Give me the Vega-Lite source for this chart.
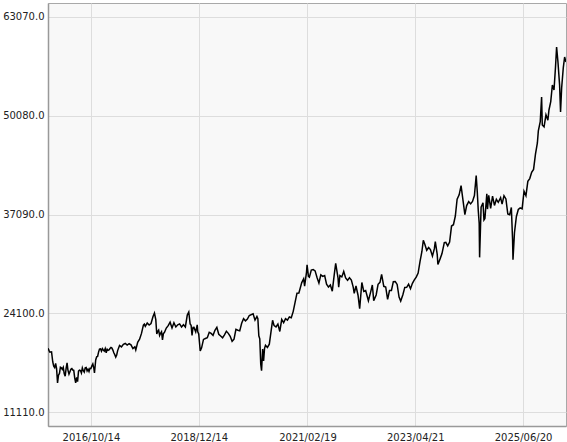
{
  "$schema": "https://vega.github.io/schema/vega-lite/v6.json",
  "width": 518,
  "height": 423,
  "autosize": {"type": "none"},
  "padding": {"left": 48, "top": 3, "right": 1, "bottom": 16},
  "background": "white",
  "config": {
    "view": {"fill": "#f8f8f8", "stroke": "#a8a8a8", "strokeWidth": 1},
    "font": "DejaVu Sans",
    "axis": {"labelFont": "DejaVu Sans", "labelFontSize": 10, "labelColor": "#222222", "gridColor": "#dddddd", "gridWidth": 1, "ticks": false, "domainColor": "#999999", "domainWidth": 1.5, "title": null}
  },
  "data": {"values": [
    {"date":"2015-12-04","close":19504},{"date":"2015-12-11","close":19230},{"date":"2015-12-18","close":18986},{"date":"2015-12-30","close":19034},
    {"date":"2016-01-08","close":17698},{"date":"2016-01-15","close":17147},{"date":"2016-01-22","close":16958},{"date":"2016-01-29","close":17518},{"date":"2016-02-05","close":16820},{"date":"2016-02-12","close":14952},{"date":"2016-02-19","close":15967},{"date":"2016-02-26","close":16188},{"date":"2016-03-04","close":17014},{"date":"2016-03-11","close":16938},{"date":"2016-03-18","close":16724},{"date":"2016-03-25","close":17002},{"date":"2016-04-01","close":16164},{"date":"2016-04-08","close":15821},{"date":"2016-04-15","close":16848},{"date":"2016-04-22","close":17572},{"date":"2016-04-28","close":16666},{"date":"2016-05-06","close":16106},{"date":"2016-05-13","close":16412},{"date":"2016-05-20","close":16736},{"date":"2016-05-27","close":16834},{"date":"2016-06-03","close":16642},{"date":"2016-06-10","close":16601},{"date":"2016-06-17","close":15599},{"date":"2016-06-24","close":14952},{"date":"2016-07-01","close":15682},{"date":"2016-07-08","close":15106},{"date":"2016-07-15","close":16497},{"date":"2016-07-22","close":16627},{"date":"2016-07-29","close":16569},{"date":"2016-08-05","close":16254},{"date":"2016-08-12","close":16919},{"date":"2016-08-19","close":16545},{"date":"2016-08-26","close":16360},{"date":"2016-09-02","close":16925},{"date":"2016-09-09","close":16965},{"date":"2016-09-16","close":16519},{"date":"2016-09-23","close":16754},{"date":"2016-09-30","close":16449},{"date":"2016-10-07","close":16860},{"date":"2016-10-14","close":16856},{"date":"2016-10-21","close":17184},{"date":"2016-10-28","close":17446},{"date":"2016-11-04","close":16905},{"date":"2016-11-09","close":16251},{"date":"2016-11-18","close":17967},{"date":"2016-11-25","close":18381},{"date":"2016-12-02","close":18426},{"date":"2016-12-09","close":18996},{"date":"2016-12-16","close":19401},{"date":"2016-12-23","close":19427},{"date":"2016-12-30","close":19114},
    {"date":"2017-01-06","close":19454},{"date":"2017-01-13","close":19287},{"date":"2017-01-20","close":19137},{"date":"2017-01-27","close":19467},{"date":"2017-02-03","close":18918},{"date":"2017-02-10","close":19378},{"date":"2017-02-17","close":19234},{"date":"2017-02-24","close":19283},{"date":"2017-03-03","close":19469},{"date":"2017-03-10","close":19604},{"date":"2017-03-17","close":19521},{"date":"2017-03-24","close":19262},{"date":"2017-03-31","close":18909},{"date":"2017-04-07","close":18664},{"date":"2017-04-14","close":18335},{"date":"2017-04-21","close":18620},{"date":"2017-04-28","close":19196},{"date":"2017-05-12","close":19883},{"date":"2017-05-26","close":19686},{"date":"2017-06-09","close":20013},{"date":"2017-06-23","close":20132},{"date":"2017-07-07","close":19929},{"date":"2017-07-21","close":20099},{"date":"2017-08-04","close":19952},{"date":"2017-08-18","close":19470},{"date":"2017-09-01","close":19691},{"date":"2017-09-08","close":19274},{"date":"2017-09-22","close":20296},{"date":"2017-10-06","close":20690},{"date":"2017-10-20","close":21457},{"date":"2017-11-03","close":22539},{"date":"2017-11-10","close":22681},{"date":"2017-11-17","close":22396},{"date":"2017-12-01","close":22819},{"date":"2017-12-15","close":22553},{"date":"2017-12-29","close":22764},
    {"date":"2018-01-12","close":23653},{"date":"2018-01-23","close":24124},{"date":"2018-02-02","close":23274},{"date":"2018-02-09","close":21382},{"date":"2018-02-16","close":21720},{"date":"2018-02-23","close":21892},{"date":"2018-03-02","close":21182},{"date":"2018-03-09","close":21469},{"date":"2018-03-16","close":21676},{"date":"2018-03-23","close":20617},{"date":"2018-03-30","close":21454},{"date":"2018-04-06","close":21567},{"date":"2018-04-20","close":22162},{"date":"2018-05-04","close":22472},{"date":"2018-05-18","close":22930},{"date":"2018-06-01","close":22171},{"date":"2018-06-15","close":22851},{"date":"2018-06-29","close":22304},{"date":"2018-07-13","close":22597},{"date":"2018-07-27","close":22712},{"date":"2018-08-10","close":22298},{"date":"2018-08-24","close":22601},{"date":"2018-09-07","close":22307},{"date":"2018-09-21","close":23869},{"date":"2018-10-02","close":24270},{"date":"2018-10-12","close":22694},{"date":"2018-10-19","close":22532},{"date":"2018-10-26","close":21184},{"date":"2018-11-02","close":22243},{"date":"2018-11-09","close":22250},{"date":"2018-11-22","close":21646},{"date":"2018-12-03","close":22574},{"date":"2018-12-07","close":21678},{"date":"2018-12-14","close":21374},{"date":"2018-12-25","close":19155},
    {"date":"2019-01-04","close":19561},{"date":"2019-01-18","close":20666},{"date":"2019-02-01","close":20788},{"date":"2019-02-15","close":20900},{"date":"2019-03-01","close":21602},{"date":"2019-03-15","close":21450},{"date":"2019-03-29","close":21205},{"date":"2019-04-12","close":21870},{"date":"2019-04-26","close":22258},{"date":"2019-05-10","close":21344},{"date":"2019-05-24","close":21117},{"date":"2019-06-07","close":20884},{"date":"2019-06-21","close":21258},{"date":"2019-07-05","close":21746},{"date":"2019-07-19","close":21466},{"date":"2019-08-02","close":21087},{"date":"2019-08-16","close":20418},{"date":"2019-08-30","close":20704},{"date":"2019-09-13","close":21988},{"date":"2019-09-27","close":21878},{"date":"2019-10-11","close":21798},{"date":"2019-10-25","close":22799},{"date":"2019-11-08","close":23391},{"date":"2019-11-22","close":23112},{"date":"2019-12-06","close":23354},{"date":"2019-12-20","close":23816},
    {"date":"2020-01-17","close":24041},{"date":"2020-01-31","close":23205},{"date":"2020-02-14","close":23687},{"date":"2020-02-21","close":23386},{"date":"2020-02-28","close":21142},{"date":"2020-03-06","close":20749},{"date":"2020-03-13","close":17431},{"date":"2020-03-19","close":16552},{"date":"2020-03-27","close":19389},{"date":"2020-04-03","close":17820},{"date":"2020-04-10","close":19498},{"date":"2020-04-17","close":19897},{"date":"2020-05-01","close":19619},{"date":"2020-05-15","close":20037},{"date":"2020-05-29","close":21877},{"date":"2020-06-08","close":23178},{"date":"2020-06-19","close":22478},{"date":"2020-07-03","close":22306},{"date":"2020-07-17","close":22696},{"date":"2020-07-31","close":21710},{"date":"2020-08-14","close":23289},{"date":"2020-08-28","close":22882},{"date":"2020-09-11","close":23406},{"date":"2020-09-25","close":23204},{"date":"2020-10-09","close":23619},{"date":"2020-10-23","close":23516},{"date":"2020-11-06","close":24325},{"date":"2020-11-20","close":25527},{"date":"2020-12-04","close":26751},{"date":"2020-12-18","close":26763},
    {"date":"2021-01-08","close":28139},{"date":"2021-01-22","close":28631},{"date":"2021-01-29","close":27663},{"date":"2021-02-12","close":29520},{"date":"2021-02-16","close":30467},{"date":"2021-02-26","close":28966},{"date":"2021-03-05","close":28864},{"date":"2021-03-19","close":29792},{"date":"2021-04-02","close":29854},{"date":"2021-04-16","close":29683},{"date":"2021-04-30","close":28813},{"date":"2021-05-14","close":28084},{"date":"2021-05-28","close":29149},{"date":"2021-06-11","close":28948},{"date":"2021-06-25","close":29066},{"date":"2021-07-09","close":27940},{"date":"2021-07-23","close":27548},{"date":"2021-08-06","close":27820},{"date":"2021-08-20","close":27013},{"date":"2021-09-03","close":29128},{"date":"2021-09-14","close":30670},{"date":"2021-10-01","close":28771},{"date":"2021-10-06","close":27528},{"date":"2021-10-15","close":29068},{"date":"2021-10-29","close":28892},{"date":"2021-11-12","close":29609},{"date":"2021-11-26","close":28751},{"date":"2021-12-10","close":28437},{"date":"2021-12-24","close":28782},
    {"date":"2022-01-07","close":28478},{"date":"2022-01-21","close":27522},{"date":"2022-01-28","close":26717},{"date":"2022-02-10","close":27696},{"date":"2022-02-25","close":26476},{"date":"2022-03-09","close":24717},{"date":"2022-03-25","close":28149},{"date":"2022-04-08","close":26985},{"date":"2022-04-22","close":27105},{"date":"2022-05-12","close":25748},{"date":"2022-05-27","close":26781},{"date":"2022-06-10","close":27824},{"date":"2022-06-20","close":25771},{"date":"2022-07-08","close":26517},{"date":"2022-07-22","close":27914},{"date":"2022-08-05","close":28175},{"date":"2022-08-17","close":29222},{"date":"2022-09-02","close":27650},{"date":"2022-09-16","close":27567},{"date":"2022-09-30","close":25937},{"date":"2022-10-14","close":27090},{"date":"2022-10-28","close":27105},{"date":"2022-11-11","close":28263},{"date":"2022-11-25","close":28283},{"date":"2022-12-09","close":27901},{"date":"2022-12-23","close":26235},
    {"date":"2023-01-04","close":25717},{"date":"2023-01-20","close":26553},{"date":"2023-02-03","close":27509},{"date":"2023-02-17","close":27513},{"date":"2023-03-03","close":27927},{"date":"2023-03-17","close":27333},{"date":"2023-03-31","close":28041},{"date":"2023-04-14","close":28493},{"date":"2023-04-28","close":28856},{"date":"2023-05-12","close":29388},{"date":"2023-05-26","close":30916},{"date":"2023-06-09","close":32265},{"date":"2023-06-19","close":33706},{"date":"2023-06-30","close":33189},{"date":"2023-07-14","close":32391},{"date":"2023-07-28","close":32759},{"date":"2023-08-10","close":32473},{"date":"2023-08-25","close":31624},{"date":"2023-09-08","close":32606},{"date":"2023-09-15","close":33533},{"date":"2023-09-29","close":31857},{"date":"2023-10-04","close":30526},{"date":"2023-10-20","close":31259},{"date":"2023-11-03","close":31950},{"date":"2023-11-20","close":33388},{"date":"2023-12-01","close":33431},{"date":"2023-12-15","close":32970},{"date":"2023-12-29","close":33464},
    {"date":"2024-01-12","close":35577},{"date":"2024-01-26","close":35751},{"date":"2024-02-09","close":36897},{"date":"2024-02-22","close":39098},{"date":"2024-03-08","close":39688},{"date":"2024-03-22","close":40888},{"date":"2024-04-05","close":38992},{"date":"2024-04-19","close":37068},{"date":"2024-05-02","close":38274},{"date":"2024-05-17","close":38787},{"date":"2024-05-31","close":38487},{"date":"2024-06-14","close":38814},{"date":"2024-06-28","close":39583},{"date":"2024-07-11","close":42224},{"date":"2024-07-19","close":40063},{"date":"2024-07-26","close":37667},{"date":"2024-08-02","close":35909},{"date":"2024-08-05","close":31458},{"date":"2024-08-16","close":38062},{"date":"2024-08-30","close":38647},{"date":"2024-09-06","close":36391},{"date":"2024-09-13","close":36581},{"date":"2024-09-27","close":39829},{"date":"2024-10-02","close":37808},{"date":"2024-10-11","close":39605},{"date":"2024-10-25","close":37913},{"date":"2024-11-08","close":39500},{"date":"2024-11-22","close":38283},{"date":"2024-12-06","close":39091},{"date":"2024-12-20","close":38701},
    {"date":"2025-01-06","close":39307},{"date":"2025-01-17","close":38451},{"date":"2025-01-31","close":39572},{"date":"2025-02-14","close":39149},{"date":"2025-02-28","close":37155},{"date":"2025-03-14","close":37053},{"date":"2025-03-26","close":38027},{"date":"2025-04-04","close":33780},{"date":"2025-04-07","close":31136},{"date":"2025-04-18","close":34730},{"date":"2025-05-02","close":36830},{"date":"2025-05-16","close":37753},{"date":"2025-05-30","close":37965},{"date":"2025-06-13","close":37834},{"date":"2025-06-27","close":40150},{"date":"2025-07-11","close":39569},{"date":"2025-07-25","close":41456},{"date":"2025-08-08","close":41820},{"date":"2025-08-22","close":42633},{"date":"2025-09-05","close":43018},{"date":"2025-09-19","close":45045},{"date":"2025-10-03","close":46500},{"date":"2025-10-10","close":48088},{"date":"2025-10-24","close":49299},{"date":"2025-11-03","close":52550},{"date":"2025-11-08","close":48870},{"date":"2025-11-21","close":48625},{"date":"2025-12-05","close":50200},{"date":"2025-12-19","close":49507},{"date":"2025-12-27","close":50840},
    {"date":"2026-01-09","close":51940},{"date":"2026-01-21","close":54130},{"date":"2026-02-02","close":53470},{"date":"2026-02-13","close":56500},{"date":"2026-02-21","close":59130},{"date":"2026-03-03","close":57150},{"date":"2026-03-15","close":54130},{"date":"2026-03-22","close":50580},{"date":"2026-03-30","close":53730},{"date":"2026-04-11","close":56370},{"date":"2026-04-21","close":57810},{"date":"2026-05-01","close":57150}
  ]},
  "mark": {"type": "line", "color": "black", "strokeWidth": 1.5, "clip": true},
  "encoding": {
    "x": {
      "field": "date", "type": "temporal",
      "scale": {"type": "utc", "domain": [{"year": 2015, "month": 12, "date": 4, "utc": true}, {"year": 2026, "month": 5, "date": 1, "utc": true}]},
      "axis": {
        "values": [{"year": 2016, "month": 10, "date": 14, "utc": true}, {"year": 2018, "month": 12, "date": 14, "utc": true}, {"year": 2021, "month": 2, "date": 19, "utc": true}, {"year": 2023, "month": 4, "date": 21, "utc": true}, {"year": 2025, "month": 6, "date": 20, "utc": true}],
        "labelExpr": "utcFormat(datum.value, '%Y/%m/%d')",
        "labelPadding": 6,
        "labelFlush": false,
        "labelOverlap": false
      }
    },
    "y": {
      "field": "close", "type": "quantitative",
      "scale": {"domain": [9280, 64910], "nice": false, "zero": false},
      "axis": {"values": [11110, 24100, 37090, 50080, 63070], "format": ".1f", "labelPadding": 4}
    }
  }
}
